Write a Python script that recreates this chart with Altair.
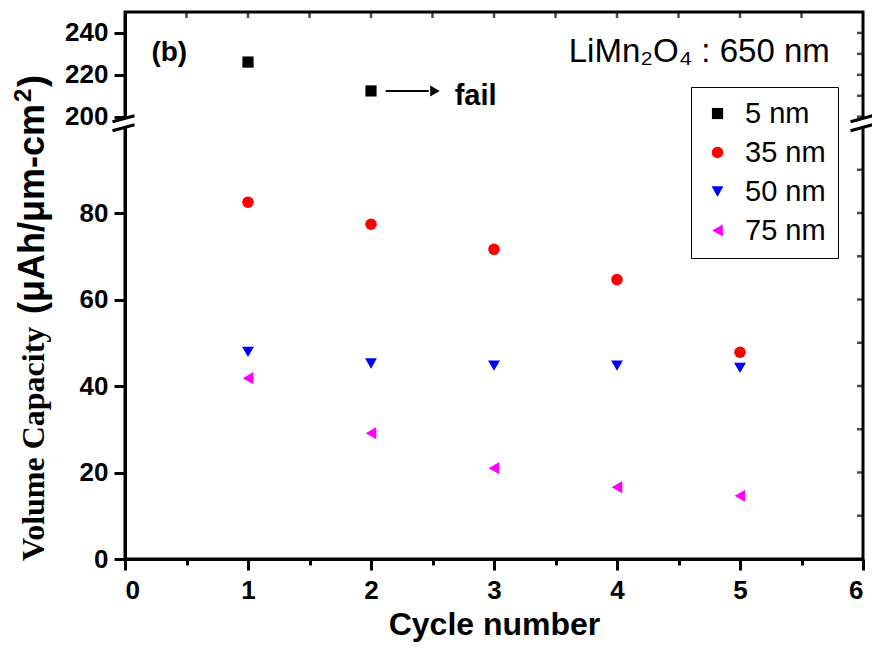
import altair as alt
import pandas as pd

# ---------------- data ----------------
series_names = ["5 nm", "35 nm", "50 nm", "75 nm"]
series_colors = ["#000000", "#FF0000", "#0000FF", "#FF00FF"]
series_shapes = ["square", "circle", "triangle-down", "triangle-left"]
series_sizes = [125, 150, 200, 200]

cycles_5nm = [1, 2]
capacity_5nm = [226.1, 212.3]
cycles = [1, 2, 3, 4, 5]
capacity_35nm = [82.5, 77.4, 71.6, 64.6, 47.8]
capacity_50nm = [47.9, 45.2, 44.7, 44.7, 44.2]
capacity_75nm = [41.8, 29.1, 21.0, 16.6, 14.6]

# broken y axis: lower part 0-100, upper part 200-250
y_break_domain = [0, 100, 200, 250]
y_tick_values = [0, 10, 20, 30, 40, 50, 60, 70, 80, 90, 200, 210, 220, 230, 240]
x_tick_values = [0, 0.5, 1, 1.5, 2, 2.5, 3, 3.5, 4, 4.5, 5, 5.5, 6]

W, H = 738, 547
y_break_range = [H, 114.5, 104.7, 0]

rows = []
for c, v in zip(cycles_5nm, capacity_5nm):
    rows.append({"cycle": c, "value": v, "series": "5 nm"})
for name, vals in [("35 nm", capacity_35nm), ("50 nm", capacity_50nm), ("75 nm", capacity_75nm)]:
    for c, v in zip(cycles, vals):
        rows.append({"cycle": c, "value": v, "series": name})
df = pd.DataFrame(rows)

xscale = alt.Scale(domain=[0, 6], nice=False, zero=False)
yscale = alt.Scale(domain=y_break_domain, range=y_break_range, nice=False, zero=False)

legend = alt.Legend(
    title=None, orient="none", legendX=566, legendY=75,
    symbolSize=55, symbolStrokeWidth=0, symbolOpacity=1,
    labelFont="Liberation Sans", labelFontSize=29, labelColor="black",
    padding=12, strokeColor="black", fillColor="white", rowPadding=9,
    symbolOffset=0, labelOffset=13, cornerRadius=0,
)

points = alt.Chart(df).mark_point(filled=True, opacity=1, strokeWidth=0).encode(
    x=alt.X("cycle:Q", scale=xscale, axis=alt.Axis(
        values=x_tick_values,
        labelExpr="datum.value % 1 === 0 ? '' + datum.value : ''",
        tickSize={"condition": {"test": "datum.value % 1 === 0", "value": 11}, "value": 6},
        title="Cycle number", titleFont="Liberation Sans", titleFontWeight="bold",
        titleFontSize=32, titleColor="black", titlePadding=6,
        labelPadding=7,
    )),
    y=alt.Y("value:Q", scale=yscale, axis=alt.Axis(
        values=y_tick_values,
        labelExpr="datum.value % 20 === 0 ? '' + datum.value : ''",
        tickSize={"condition": {"test": "datum.value % 20 === 0", "value": 11}, "value": 6},
        title=None, labelPadding=6,
    )),
    color=alt.Color("series:N", scale=alt.Scale(domain=series_names, range=series_colors), legend=legend),
    shape=alt.Shape("series:N", scale=alt.Scale(domain=series_names, range=series_shapes), legend=legend),
    size=alt.Size("series:N", scale=alt.Scale(domain=series_names, range=series_sizes), legend=None),
)

# annotations
ann_b = pd.DataFrame({"cycle": [0.215], "value": [226.7], "t": ["(b)"]})
text_b = alt.Chart(ann_b).mark_text(
    align="left", baseline="alphabetic", font="Liberation Sans", fontWeight="bold",
    fontSize=28, color="black"
).encode(x=alt.X("cycle:Q", scale=xscale), y=alt.Y("value:Q", scale=yscale), text="t:N")

ann_li = pd.DataFrame({"cycle": [5.73], "value": [225.9], "t": ["LiMn₂O₄ : 650 nm"]})
text_li = alt.Chart(ann_li).mark_text(
    align="right", baseline="alphabetic", font="Liberation Sans",
    fontSize=33, color="black"
).encode(x=alt.X("cycle:Q", scale=xscale), y=alt.Y("value:Q", scale=yscale), text="t:N")

ann_fail = pd.DataFrame({"cycle": [2.68], "value": [212.3], "t": ["fail"]})
text_fail = alt.Chart(ann_fail).mark_text(
    align="left", baseline="middle", dy=5, font="Liberation Sans", fontWeight="bold",
    fontSize=29, color="black"
).encode(x=alt.X("cycle:Q", scale=xscale), y=alt.Y("value:Q", scale=yscale), text="t:N")

arrow_df = pd.DataFrame({"cycle": [2.12], "cycle2": [2.47], "value": [212.3]})
arrow_line = alt.Chart(arrow_df).mark_rule(color="black", strokeWidth=2).encode(
    x=alt.X("cycle:Q", scale=xscale), x2="cycle2:Q", y=alt.Y("value:Q", scale=yscale))
head_df = pd.DataFrame({"cycle": [2.52], "value": [212.3]})
arrow_head = alt.Chart(head_df).mark_point(
    shape="triangle-right", filled=True, color="black", size=120, opacity=1, strokeWidth=0
).encode(x=alt.X("cycle:Q", scale=xscale), y=alt.Y("value:Q", scale=yscale))

# inward ticks on top and right frame
top_df = pd.DataFrame({"cycle": x_tick_values[1:-1]})
top_ticks = alt.Chart(top_df).mark_tick(orient="vertical", color="black", size=6, thickness=2.5).encode(
    x=alt.X("cycle:Q", scale=xscale), y=alt.value(3))
right_df = pd.DataFrame({"value": [v for v in y_tick_values if v not in (0,)]})
right_ticks = alt.Chart(right_df).mark_tick(orient="horizontal", color="black", size=6, thickness=2.5).encode(
    y=alt.Y("value:Q", scale=yscale), x=alt.value(W - 3))

# axis break symbols
one = pd.DataFrame({"k": [0]})
breaks = []
for x0 in [0, W]:
    breaks.append(alt.Chart(one).mark_rect(color="white").encode(
        x=alt.value(x0 - 3), x2=alt.value(x0 + 3), y=alt.value(107), y2=alt.value(115)))
    for yy in [109.7, 118.7]:
        breaks.append(alt.Chart(one).mark_rule(color="black", strokeWidth=3).encode(
            x=alt.value(x0 - 12.5), x2=alt.value(x0 + 9.5), y=alt.value(yy), y2=alt.value(yy - 6)))

# y axis title (serif words, sans-serif unit with raised superscript)
def ytext(txt, font, size, xpos, ypos):
    return alt.Chart(pd.DataFrame({"t": [txt]})).mark_text(
        angle=270, align="left", baseline="alphabetic", font=font,
        fontWeight="bold", fontSize=size, color="black"
    ).encode(x=alt.value(xpos), y=alt.value(ypos), text="t:N")

ytitle1 = ytext("Volume Capacity", "Liberation Serif", 32, -81, 549)
ytitle2 = ytext("(μAh/μm-cm", "Liberation Sans", 36, -81, 302)
ytitle3 = ytext("2", "Liberation Sans", 24, -94, 90)
ytitle4 = ytext(")", "Liberation Sans", 36, -81, 75)

chart = alt.layer(
    points, text_b, text_li, text_fail, arrow_line, arrow_head,
    top_ticks, right_ticks, *breaks, ytitle1, ytitle2, ytitle3, ytitle4
).properties(
    width=W, height=H,
    autosize=alt.AutoSizeParams(type="none"),
    padding={"left": 125, "top": 12, "right": 9, "bottom": 89},
).configure_view(
    stroke="black", strokeWidth=3
).configure_axis(
    domainColor="black", domainWidth=3, tickColor="black", tickWidth=3,
    labelFont="Liberation Sans", labelFontWeight="bold", labelFontSize=26,
    labelColor="black", grid=False,
)

chart.save("out.html", embed_options={"renderer": "svg", "actions": False})
